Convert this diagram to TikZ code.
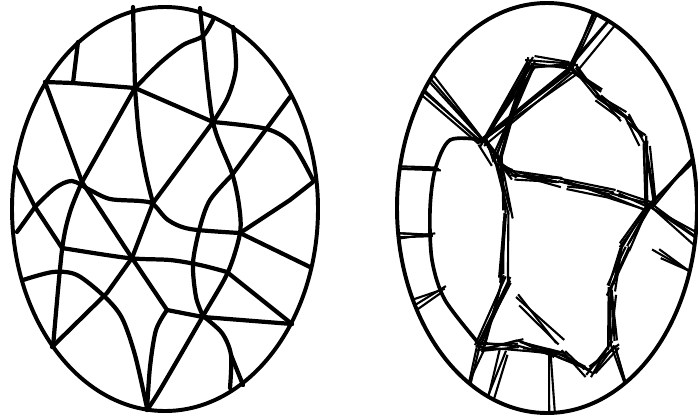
\documentclass[tikz,border=0pt]{standalone}
\usetikzlibrary{calc}

\tikzset{
    borde/.style={line width=2.8pt},
    fibra/.style={line width=3pt, line join=round, line cap=round},
    hilo/.style={line width=1.5pt, line join=round},
}
% haz de hilos entre dos puntos
\newcommand{\haz}[3][6]{%
    \foreach \k in {1,...,#1}{%
        \draw[hilo] ($(#2)+(rand*6,rand*6)$) -- ($(#3)+(rand*6,rand*6)$);
    }}

\begin{document}
\begin{tikzpicture}[x=0.025cm, y=-0.025cm]
    \useasboundingbox (0,0) rectangle (698,416);
    \pgfmathsetseed{7}

    % izquierda: red de curvas
    \begin{scope}
        \draw[borde] (165,209) ellipse (153 and 202);

        \draw[fibra] (133,7) -- (135,88);
        \draw[fibra] (45,82) -- (73,83) -- (135,88);
        \draw[fibra] (78,42) -- (73,83);
        \draw[fibra] (45,82) -- (82,182) -- (132,258) -- (167,310);
        \draw[fibra] plot[smooth] coordinates {(167,310) (156,330) (150,367) (147,410)};
        \draw[fibra] (135,88) -- (82,182);
        \draw[fibra] plot[smooth] coordinates {(82,182) (70,212) (62,250) (53,347)};
        \draw[fibra] plot[smooth] coordinates {(135,88) (139,135) (146,175) (153,203)};
        \draw[fibra] plot[smooth] coordinates {(135,88) (160,63) (183,45) (203,36) (213,20)};
        \draw[fibra] plot[smooth] coordinates {(200,8) (203,36) (213,122) (232,173) (239,205) (240,233) (228,272) (203,316) (160,390) (147,410)};
        \draw[fibra] plot[smooth] coordinates {(233,27) (236,67) (228,97) (213,122)};
        \draw[fibra] (135,88) -- (213,122);
        \draw[fibra] plot[smooth] coordinates {(213,122) (267,129) (293,145) (313,180)};
        \draw[fibra] (290,97) -- (267,128) -- (232,175);
        \draw[fibra] plot[smooth] coordinates {(232,175) (210,200) (200,227) (193,263) (196,297) (203,316)};
        \draw[fibra] (213,122) -- (153,203) -- (132,258) -- (107,293) -- (52,347);
        \draw[fibra] plot[smooth] coordinates {(35,207) (55,188) (72,181) (90,190) (110,199) (140,201) (153,204) (168,220) (190,229) (240,233)};
        \draw[fibra] (15,167) -- (35,207) -- (62,248);
        \draw[fibra] (17,232) -- (35,207);
        \draw[fibra] plot[smooth] coordinates {(62,248) (128,258) (170,260) (200,265) (227,272)};
        \draw[fibra] (227,272) -- (292,324);
        \draw[fibra] (240,233) -- (310,267);
        \draw[fibra] (240,233) -- (290,200) -- (313,182);
        \draw[fibra] (167,310) -- (203,317) -- (292,324);
        \draw[fibra] plot[smooth] coordinates {(203,316) (222,333) (231,355) (230,388)};
        \draw[fibra] (231,355) -- (243,385);
        \draw[fibra] plot[smooth] coordinates {(23,280) (53,272) (77,275) (105,297) (122,318) (135,355) (147,408)};
    \end{scope}

    % derecha: haces de hilos
    \begin{scope}
        \clip (547,208) ellipse (150 and 205);

        \coordinate (a) at (483,142);
        \coordinate (b) at (530,62);
        \coordinate (c) at (573,68);
        \coordinate (d) at (600,95);
        \coordinate (e) at (625,118);
        \coordinate (f) at (645,140);
        \coordinate (g) at (650,205);
        \coordinate (h) at (625,245);
        \coordinate (i) at (612,290);
        \coordinate (j) at (613,345);
        \coordinate (k) at (590,372);
        \coordinate (l) at (560,352);
        \coordinate (m) at (520,345);
        \coordinate (n) at (480,347);
        \coordinate (o) at (505,280);
        \coordinate (p) at (508,215);
        \coordinate (q) at (497,160);
        \coordinate (r) at (513,176);
        \coordinate (s) at (563,184);
        \coordinate (t) at (613,194);

        % anillo interior
        \foreach \u/\v in {a/b, b/c, a/c, c/d, d/e, e/f, f/g, g/h, h/i, i/j, j/k, k/l, l/m, m/n, n/o, o/p, p/q, q/a, r/s, s/t, t/g, q/r, b/q}
            {\haz{\u}{\v}}

        % arco izquierdo
        \draw[line width=2.6pt] plot[smooth] coordinates {(483,140) (450,140) (435,170) (430,210) (432,260) (445,300) (480,345)};

        % radios hacia el borde
        \haz[3]{c}{595,8}
        \haz[3]{c}{614,18}
        \haz[3]{a}{428,74}
        \haz[3]{a}{420,92}
        \haz[3]{436,168}{400,170}
        \haz[4]{431,236}{396,236}
        \haz[3]{440,292}{410,307}
        \haz[3]{n}{468,396}
        \haz[3]{505,350}{490,404}
        \haz[2]{545,352}{550,418}
        \haz[3]{j}{622,390}
        \haz[4]{g}{700,155}
        \haz[4]{g}{702,243}
        \haz[3]{657,253}{700,280}
        \haz[3]{520,300}{560,340}
    \end{scope}
    \draw[borde] (547,208) ellipse (150 and 205);

\end{tikzpicture}
\end{document}
